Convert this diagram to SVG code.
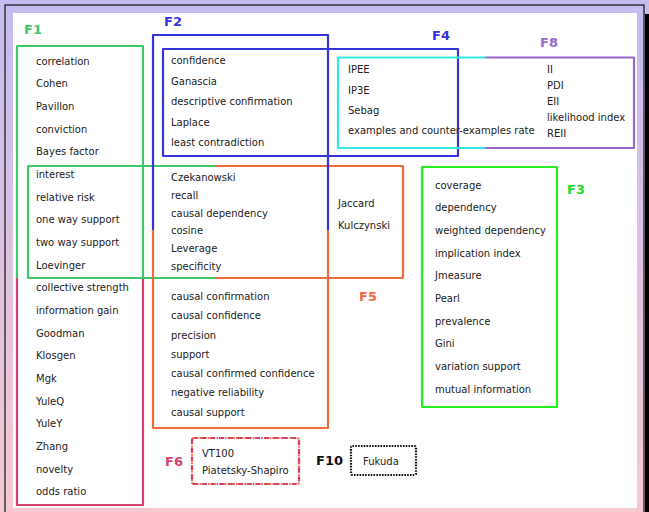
<svg xmlns="http://www.w3.org/2000/svg" width="649" height="512" viewBox="0 0 649 512">
<defs>
<linearGradient id="bg" x1="0" y1="0" x2="0" y2="1">
<stop offset="0" stop-color="#c4bcf0"/>
<stop offset="1" stop-color="#f6c9d2"/>
</linearGradient>
</defs>
<style>
text{font-family:"DejaVu Sans","Liberation Sans",sans-serif;font-size:10px;fill:#222}
.lab{font-weight:bold;font-size:13px}
.b{fill:none;stroke-width:2.2;stroke-linejoin:round;stroke-linecap:butt}
.g1{stroke:#3ec86c}.cr{stroke:#d5406c}.or{stroke:#f26b3b}.bl{stroke:#3434dc}.cy{stroke:#35e8e8}.pu{stroke:#9a68cc}.g3{stroke:#22ee22}
</style>
<rect width="649" height="512" fill="url(#bg)"/>
<rect x="5" y="5" width="639" height="520" fill="none" stroke="#111" stroke-width="1.2"/>
<rect x="645" y="14" width="4" height="498" fill="#000"/>
<rect x="13" y="13" width="624" height="495" fill="#fff"/>

<g id="F1">
<path class="b g1" d="M17,278 V46 H143 V278"/>
<path class="b cr" d="M17,278 V505 H143 V278"/>
<text class="lab" x="24" y="33.5" style="fill:#3ec86c">F1</text>
<text x="36" y="64.5">correlation</text>
<text x="36" y="87.2">Cohen</text>
<text x="36" y="109.8">Pavillon</text>
<text x="36" y="132.5">conviction</text>
<text x="36" y="155.2">Bayes factor</text>
<text x="36" y="177.8">interest</text>
<text x="36" y="200.5">relative risk</text>
<text x="36" y="223.2">one way support</text>
<text x="36" y="245.8">two way support</text>
<text x="36" y="268.5">Loevinger</text>
<text x="36" y="291.2">collective strength</text>
<text x="36" y="313.8">information gain</text>
<text x="36" y="336.5">Goodman</text>
<text x="36" y="359.2">Klosgen</text>
<text x="36" y="381.8">Mgk</text>
<text x="36" y="404.5">YuleQ</text>
<text x="36" y="427.2">YuleY</text>
<text x="36" y="449.8">Zhang</text>
<text x="36" y="472.5">novelty</text>
<text x="36" y="495.2">odds ratio</text>
</g>

<g id="F1F5">
<path class="b g1" d="M215,166 H28 V278 H215"/>
<path class="b or" d="M215,166 H403 V278 H215"/>
</g>

<g id="F2">
<path class="b bl" d="M153,230 V35 H328 V230"/>
<path class="b or" d="M153,230 V428 H328 V230"/>
<text class="lab" x="164" y="25.5" style="fill:#3434dc">F2</text>
<text x="171" y="64">confidence</text>
<text x="171" y="84.5">Ganascia</text>
<text x="171" y="105">descriptive confirmation</text>
<text x="171" y="125.5">Laplace</text>
<text x="171" y="146">least contradiction</text>
<text x="171" y="181">Czekanowski</text>
<text x="171" y="199">recall</text>
<text x="171" y="216.5">causal dependency</text>
<text x="171" y="234">cosine</text>
<text x="171" y="252">Leverage</text>
<text x="171" y="269.5">specificity</text>
<text x="171" y="299.5">causal confirmation</text>
<text x="171" y="319">causal confidence</text>
<text x="171" y="339">precision</text>
<text x="171" y="358">support</text>
<text x="171" y="377">causal confirmed confidence</text>
<text x="171" y="396">negative reliability</text>
<text x="171" y="416">causal support</text>
</g>

<g id="F5">
<text class="lab" x="359" y="300.5" style="fill:#f26b3b">F5</text>
<text x="338" y="207">Jaccard</text>
<text x="338" y="229">Kulczynski</text>
</g>

<g id="F4">
<rect class="b bl" x="163" y="49" width="295" height="107"/>
<text class="lab" x="432" y="39.5" style="fill:#3434dc">F4</text>
</g>

<g id="F4F8">
<path class="b cy" d="M485,57.5 H338 V148 H485"/>
<path class="b pu" d="M485,57.5 H634 V148 H485"/>
<text x="348" y="73">IPEE</text>
<text x="348" y="93.5">IP3E</text>
<text x="348" y="113.5">Sebag</text>
<text x="348" y="133.5">examples and counter-examples rate</text>
</g>

<g id="F8">
<text class="lab" x="540" y="47" style="fill:#9a68cc">F8</text>
<text x="547" y="72.5">II</text>
<text x="547" y="89">PDI</text>
<text x="547" y="105">EII</text>
<text x="547" y="120.5">likelihood index</text>
<text x="547" y="136.5">REII</text>
</g>

<g id="F3">
<rect class="b g3" x="422" y="167" width="135" height="240"/>
<text class="lab" x="567" y="193.5" style="fill:#22dd22">F3</text>
<text x="435" y="188.5">coverage</text>
<text x="435" y="211.2">dependency</text>
<text x="435" y="233.8">weighted dependency</text>
<text x="435" y="256.5">implication index</text>
<text x="435" y="279.2">Jmeasure</text>
<text x="435" y="301.8">Pearl</text>
<text x="435" y="324.5">prevalence</text>
<text x="435" y="347.2">Gini</text>
<text x="435" y="369.8">variation support</text>
<text x="435" y="392.5">mutual information</text>
</g>

<g id="F6">
<rect x="192" y="438" width="107" height="46" rx="2" fill="none" stroke="#f26b3b" stroke-width="2.2" stroke-dasharray="1.6,1.2"/>
<rect x="192" y="438" width="107" height="46" rx="2" fill="none" stroke="#d5406c" stroke-width="2.2" stroke-dasharray="5,4" stroke-dashoffset="2"/>
<text class="lab" x="165" y="466" style="fill:#d5406c">F6</text>
<text x="202" y="457">VT100</text>
<text x="202" y="474">Piatetsky-Shapiro</text>
</g>

<g id="F10">
<rect x="351" y="446" width="65" height="29" rx="1.5" fill="none" stroke="#111" stroke-width="2.2" stroke-dasharray="1.6,1.2"/>
<text class="lab" x="316" y="465" style="fill:#111">F10</text>
<text x="363" y="465">Fukuda</text>
</g>

<g id="connectors"/>
</svg>
